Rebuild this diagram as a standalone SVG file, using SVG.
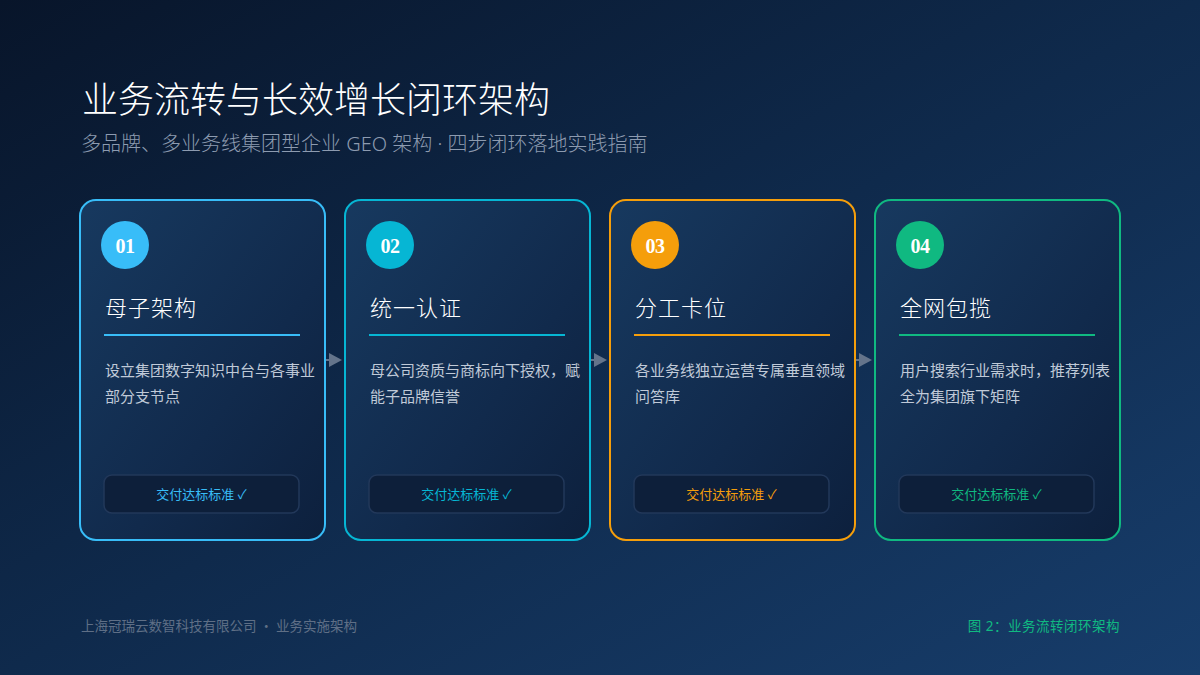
<svg xmlns="http://www.w3.org/2000/svg" width="1200" height="675" viewBox="0 0 1200 675">
<defs>
<linearGradient id="bg" x1="0" y1="0" x2="1" y2="1">
<stop offset="0" stop-color="#08152a"/>
<stop offset="0.5" stop-color="#0f2a4c"/>
<stop offset="1" stop-color="#173d6b"/>
</linearGradient>
<linearGradient id="cardfill" x1="0" y1="0" x2="1" y2="1">
<stop offset="0" stop-color="#17395f"/>
<stop offset="0.6" stop-color="#112a4c"/>
<stop offset="1" stop-color="#0d203d"/>
</linearGradient>
<marker id="arr" viewBox="0 0 13 14" refX="0" refY="7" markerWidth="13" markerHeight="14" markerUnits="userSpaceOnUse" orient="auto">
<path d="M0,0 L13,7 L0,14 Z" fill="#64748b"/>
</marker>
</defs>
<style>
.cjk{font-family:"Noto Sans","Noto Sans CJK SC",sans-serif;}
.cjk2{font-family:"Noto Sans CJK SC","Noto Sans",sans-serif;}
.light{font-weight:300;}
.card{fill:url(#cardfill);stroke-width:2;}
.num{font-family:"Liberation Serif",serif;font-weight:bold;font-size:20px;fill:#ffffff;text-anchor:middle;letter-spacing:-0.5px;}
.ctitle{font-size:22px;fill:#ffffff;letter-spacing:1px;font-weight:300;}
.desc{font-size:15px;fill:#c0cad8;}
.btn{fill:#0d1f3a;stroke:#22385a;stroke-width:1.5;}
.btxt{font-size:13px;text-anchor:middle;}
.conn{stroke:#64748b;stroke-width:2;fill:none;}
</style>
<rect x="0" y="0" width="1200" height="675" fill="url(#bg)"/>
<text x="82" y="113" class="cjk light" font-size="36" fill="#ffffff">业务流转与长效增长闭环架构</text>
<text x="81" y="151" class="cjk light" font-size="20" fill="#8d9bb0">多品牌、多业务线集团型企业 GEO 架构 · 四步闭环落地实践指南</text>

<g id="connectors">
<line class="conn" x1="325" y1="360" x2="329" y2="360" marker-end="url(#arr)"/>
<line class="conn" x1="590" y1="360" x2="594" y2="360" marker-end="url(#arr)"/>
<line class="conn" x1="855" y1="360" x2="859" y2="360" marker-end="url(#arr)"/>
</g>

<g id="node1">
<rect class="card" x="80" y="200" width="245" height="340" rx="16" stroke="#38bdf8"/>
<circle cx="125" cy="245" r="24" fill="#38bdf8"/>
<text x="125" y="253" class="num">01</text>
<text x="105" y="316" class="cjk ctitle">母子架构</text>
<line x1="104" y1="335" x2="300" y2="335" stroke="#38bdf8" stroke-width="2"/>
<text class="cjk desc"><tspan x="105" y="376">设立集团数字知识中台与各事业</tspan><tspan x="105" y="402">部分支节点</tspan></text>
<rect class="btn" x="104" y="475" width="195" height="38" rx="8"/>
<text x="201.5" y="499" class="cjk btxt" fill="#38bdf8">交付达标标准 ✓</text>
</g>

<g id="node2">
<rect class="card" x="345" y="200" width="245" height="340" rx="16" stroke="#06b6d4"/>
<circle cx="390" cy="245" r="24" fill="#06b6d4"/>
<text x="390" y="253" class="num">02</text>
<text x="370" y="316" class="cjk ctitle">统一认证</text>
<line x1="369" y1="335" x2="565" y2="335" stroke="#06b6d4" stroke-width="2"/>
<text class="cjk desc"><tspan x="370" y="376">母公司资质与商标向下授权，赋</tspan><tspan x="370" y="402">能子品牌信誉</tspan></text>
<rect class="btn" x="369" y="475" width="195" height="38" rx="8"/>
<text x="466.5" y="499" class="cjk btxt" fill="#06b6d4">交付达标标准 ✓</text>
</g>

<g id="node3">
<rect class="card" x="610" y="200" width="245" height="340" rx="16" stroke="#f59e0b"/>
<circle cx="655" cy="245" r="24" fill="#f59e0b"/>
<text x="655" y="253" class="num">03</text>
<text x="635" y="316" class="cjk ctitle">分工卡位</text>
<line x1="634" y1="335" x2="830" y2="335" stroke="#f59e0b" stroke-width="2"/>
<text class="cjk desc"><tspan x="635" y="376">各业务线独立运营专属垂直领域</tspan><tspan x="635" y="402">问答库</tspan></text>
<rect class="btn" x="634" y="475" width="195" height="38" rx="8"/>
<text x="731.5" y="499" class="cjk btxt" fill="#f59e0b">交付达标标准 ✓</text>
</g>

<g id="node4">
<rect class="card" x="875" y="200" width="245" height="340" rx="16" stroke="#10b981"/>
<circle cx="920" cy="245" r="24" fill="#10b981"/>
<text x="920" y="253" class="num">04</text>
<text x="900" y="316" class="cjk ctitle">全网包揽</text>
<line x1="899" y1="335" x2="1095" y2="335" stroke="#10b981" stroke-width="2"/>
<text class="cjk desc"><tspan x="900" y="376">用户搜索行业需求时，推荐列表</tspan><tspan x="900" y="402">全为集团旗下矩阵</tspan></text>
<rect class="btn" x="899" y="475" width="195" height="38" rx="8"/>
<text x="996.5" y="499" class="cjk btxt" fill="#10b981">交付达标标准 ✓</text>
</g>

<text x="81" y="631" class="cjk2" font-size="13.5" fill="#5f6f86">上海冠瑞云数智科技有限公司 · 业务实施架构</text>
<text x="1120" y="631" class="cjk" font-size="13.5" fill="#10b981" text-anchor="end" letter-spacing="0.5">图 2：业务流转闭环架构</text>
</svg>
